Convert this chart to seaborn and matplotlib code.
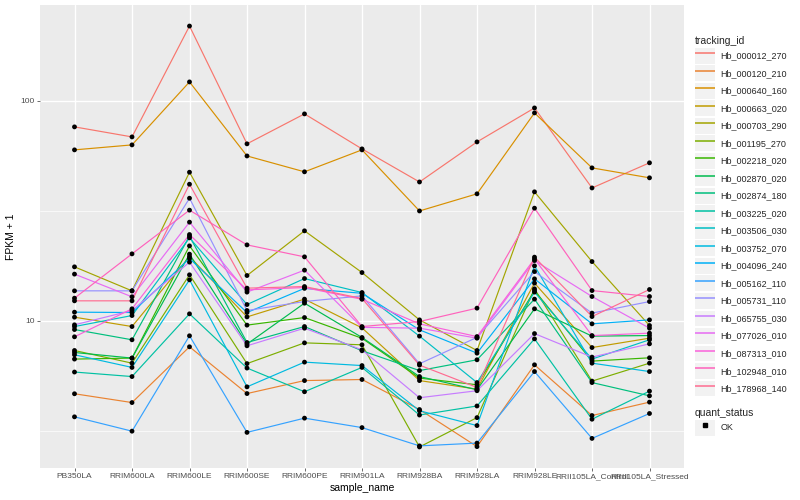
import numpy as np
import pandas as pd
import matplotlib
matplotlib.use("Agg")
import matplotlib.pyplot as plt
import seaborn as sns
from matplotlib.lines import Line2D
from matplotlib.patches import Rectangle
from matplotlib.legend_handler import HandlerLine2D
from matplotlib.ticker import FixedLocator, FixedFormatter, NullFormatter

sns.set_theme(style="darkgrid")
plt.rcParams["font.family"] = ["Liberation Sans", "DejaVu Sans"]

samples = ["PB350LA", "RRIM600LA", "RRIM600LE", "RRIM600SE", "RRIM600PE",
           "RRIM901LA", "RRIM928BA", "RRIM928LA", "RRIM928LE",
           "RRII105LA_Control", "RRII105LA_Stressed"]

tracking_ids = ["Hb_000012_270", "Hb_000120_210", "Hb_000640_160", "Hb_000663_020",
                "Hb_000703_290", "Hb_001195_270", "Hb_002218_020", "Hb_002870_020",
                "Hb_002874_180", "Hb_003225_020", "Hb_003506_030", "Hb_003752_070",
                "Hb_004096_240", "Hb_005162_110", "Hb_005731_110", "Hb_065755_030",
                "Hb_077026_010", "Hb_087313_010", "Hb_102948_010", "Hb_178968_140"]

palette = ["#F8766D", "#EA8331", "#D89000", "#C09B00", "#A3A500", "#7CAE00",
           "#39B600", "#00BB4E", "#00BF7D", "#00C1A3", "#00BFC4", "#00BAE0",
           "#00B0F6", "#35A2FF", "#9590FF", "#C77CFF", "#E76BF3", "#FA62DB",
           "#FF62BC", "#FF6C91"]

# FPKM + 1 values per sample (order as in `samples`)
hb_000012_270 = [76.2, 68.6, 219.0, 63.8, 87.3, 60.5, 42.8, 65.1, 92.9, 40.2, 52.3]
hb_000120_210 = [4.66, 4.25, 7.62, 4.67, 5.35, 5.41, 3.95, 2.68, 6.31, 3.71, 4.27]
hb_000640_160 = [59.9, 63.1, 122.0, 56.2, 47.6, 59.9, 31.6, 37.8, 88.2, 49.6, 44.7]
hb_000663_020 = [10.39, 9.42, 19.60, 10.42, 12.55, 9.29, 5.35, 4.89, 14.84, 7.56, 8.34]
hb_000703_290 = [17.60, 13.69, 47.4, 16.07, 25.66, 16.58, 10.10, 7.33, 38.6, 18.60, 9.52]
hb_001195_270 = [7.33, 6.42, 16.19, 6.39, 7.94, 7.78, 2.67, 3.63, 13.98, 5.32, 6.42]
hb_002218_020 = [6.70, 6.77, 21.92, 9.56, 10.35, 8.33, 5.49, 5.12, 13.73, 6.56, 6.79]
hb_002870_020 = [7.18, 6.77, 20.10, 7.84, 12.03, 8.40, 5.58, 4.86, 11.34, 8.52, 8.57]
hb_002874_180 = [9.13, 8.20, 24.27, 7.97, 9.42, 7.31, 5.94, 6.65, 12.55, 5.24, 4.56]
hb_003225_020 = [5.85, 5.58, 10.76, 6.10, 4.76, 6.14, 3.73, 4.10, 8.28, 3.57, 4.79]
hb_003506_030 = [9.42, 10.57, 23.84, 11.86, 15.57, 13.45, 8.52, 5.24, 13.51, 6.70, 8.20]
hb_003752_070 = [7.01, 6.14, 15.36, 5.01, 6.49, 6.26, 3.90, 3.34, 17.78, 6.42, 5.88]
hb_004096_240 = [10.95, 10.91, 19.20, 10.91, 14.05, 13.34, 9.10, 7.13, 15.52, 9.69, 10.10]
hb_005162_110 = [3.66, 3.15, 8.55, 3.11, 3.61, 3.27, 2.70, 2.78, 5.88, 2.92, 3.79]
hb_005731_110 = [13.69, 13.69, 36.1, 11.14, 12.24, 12.99, 6.38, 8.41, 16.75, 10.84, 12.24]
hb_065755_030 = [9.59, 11.14, 18.49, 7.70, 9.26, 7.38, 4.47, 4.81, 8.75, 6.84, 7.86]
hb_077026_010 = [16.31, 12.86, 28.10, 13.51, 17.00, 9.34, 9.26, 8.34, 18.80, 12.90, 9.26]
hb_087313_010 = [8.46, 11.34, 24.68, 13.83, 14.17, 12.53, 9.69, 8.48, 19.13, 8.57, 8.79]
hb_102948_010 = [12.68, 20.16, 31.86, 22.15, 19.54, 9.42, 9.93, 11.42, 32.53, 13.73, 12.90]
hb_178968_140 = [12.33, 12.33, 41.8, 14.08, 14.32, 12.63, 6.29, 4.98, 19.48, 10.46, 13.88]

series = [hb_000012_270, hb_000120_210, hb_000640_160, hb_000663_020, hb_000703_290,
          hb_001195_270, hb_002218_020, hb_002870_020, hb_002874_180, hb_003225_020,
          hb_003506_030, hb_003752_070, hb_004096_240, hb_005162_110, hb_005731_110,
          hb_065755_030, hb_077026_010, hb_087313_010, hb_102948_010, hb_178968_140]

rows = []
for tid, vals in zip(tracking_ids, series):
    for s, v in zip(samples, vals):
        rows.append((tid, s, v, "OK"))
df = pd.DataFrame(rows, columns=["tracking_id", "sample_name", "fpkm", "quant_status"])

fig = plt.figure(figsize=(8, 5), dpi=100)
fig.patch.set_facecolor("white")
ax = fig.add_axes([40 / 800, 1 - 468 / 500, 644 / 800, 463 / 500])
ax.set_facecolor("#EBEBEB")

sns.lineplot(data=df, x="sample_name", y="fpkm", hue="tracking_id",
             hue_order=tracking_ids, palette=palette, sort=False, estimator=None,
             linewidth=0.85, legend=False, ax=ax, zorder=3)
sns.scatterplot(data=df, x="sample_name", y="fpkm", color="black", s=12,
                marker="o", edgecolor="none", legend=False, ax=ax, zorder=4)

ax.set_yscale("log")
lo, hi = np.log10(df["fpkm"].min()), np.log10(df["fpkm"].max())
pad = 0.05 * (hi - lo)
ax.set_ylim(10 ** (lo - pad), 10 ** (hi + pad))
ax.set_xlim(-0.6, len(samples) - 0.4)

ax.yaxis.set_major_locator(FixedLocator([10, 100]))
ax.yaxis.set_major_formatter(FixedFormatter(["10", "100"]))
ax.yaxis.set_minor_locator(FixedLocator([10 ** 0.5, 10 ** 1.5, 10 ** 2.5]))
ax.yaxis.set_minor_formatter(NullFormatter())

ax.grid(False)
ax.grid(which="major", color="white", linewidth=1.0, zorder=0)
ax.grid(which="minor", axis="y", color="white", linewidth=0.5, zorder=0)
ax.set_axisbelow(True)
for sp in ax.spines.values():
    sp.set_visible(False)

ax.tick_params(axis="both", which="major", length=2.2, width=0.5, color="#333333",
               labelsize=6, labelcolor="#4D4D4D", pad=1.5, bottom=True, left=True)
ax.tick_params(axis="both", which="minor", length=0)

ax.set_xlabel("sample_name", fontsize=7.5, color="black", labelpad=2)
ax.set_ylabel("FPKM + 1", fontsize=7.5, color="black", labelpad=3)


class KeyHandler(HandlerLine2D):
    def create_artists(self, legend, orig_handle, xdescent, ydescent, width, height,
                       fontsize, trans):
        bg = Rectangle((-xdescent, -ydescent), width, height, transform=trans,
                       facecolor="#F2F2F2", edgecolor="none", zorder=0)
        arts = super().create_artists(legend, orig_handle, xdescent, ydescent,
                                      width, height, fontsize, trans)
        for a in arts:
            a.set_zorder(2)
        return [bg] + list(arts)


handles = [Line2D([0], [0], color=c, lw=1.1, solid_capstyle="butt") for c in palette]
fig.legend(handles, tracking_ids, loc="upper left",
           bbox_to_anchor=(695 / 800, 1 - 36 / 500), frameon=False,
           title="tracking_id", fontsize=6.5, title_fontsize=7.5,
           handlelength=2.25, handleheight=2.3, labelspacing=0.2,
           handletextpad=0.55, borderpad=0, borderaxespad=0, alignment="left",
           handler_map={Line2D: KeyHandler()})

ok_handle = [Line2D([0], [0], color="black", lw=0, marker="s", markersize=2.5)]
fig.legend(ok_handle, ["OK"], loc="upper left",
           bbox_to_anchor=(695 / 800, 1 - 408 / 500), frameon=False,
           title="quant_status", fontsize=6.5, title_fontsize=7.5,
           handlelength=2.25, handleheight=2.3, labelspacing=0.2,
           handletextpad=0.55, borderpad=0, borderaxespad=0, alignment="left",
           handler_map={Line2D: KeyHandler()})

fig.savefig("out.png", dpi=100, facecolor="white")
